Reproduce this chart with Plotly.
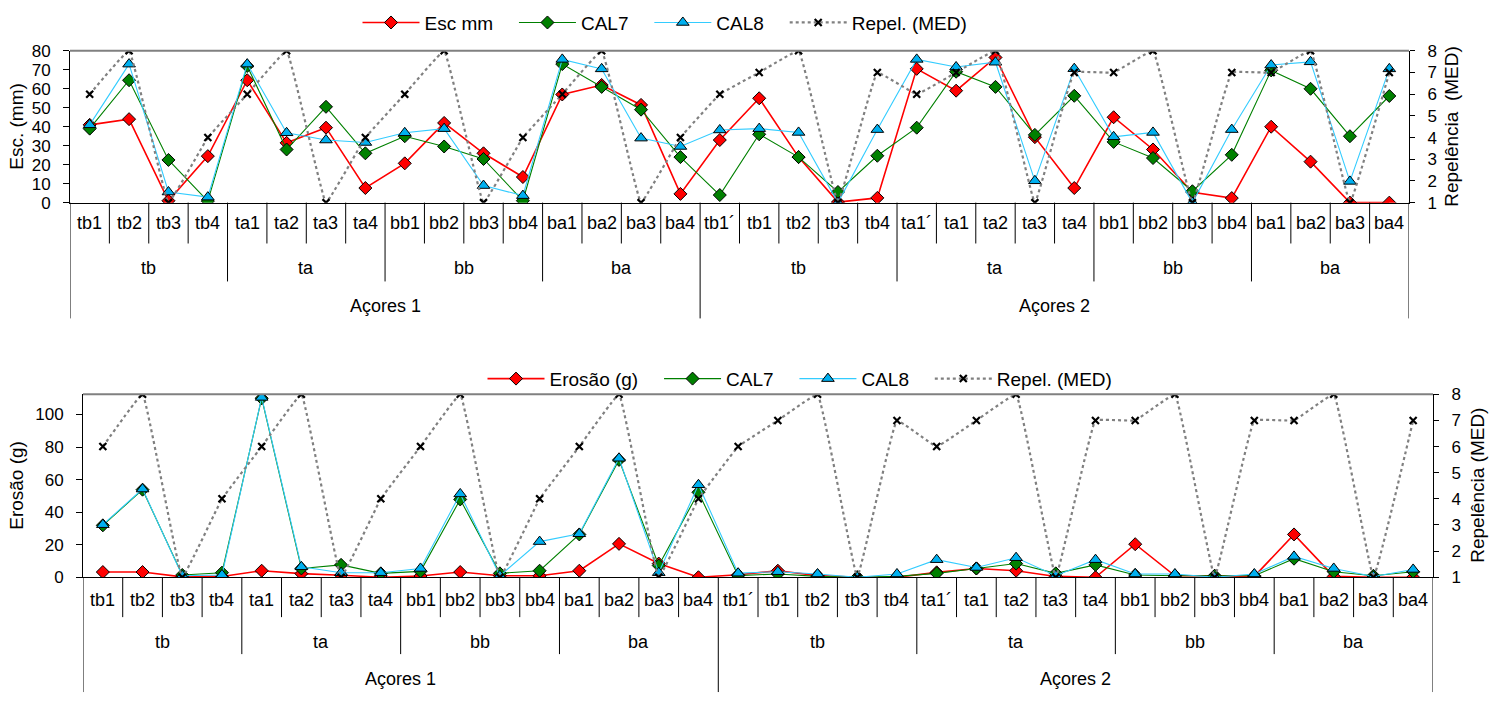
import plotly.graph_objects as go

W, H = 1498, 704

# Three-level category axis: site / plot type / sample
sites = ["Açores 1"] * 16 + ["Açores 2"] * 18
groups = (["tb"] * 4 + ["ta"] * 4 + ["bb"] * 4 + ["ba"] * 4 +
          ["tb"] * 5 + ["ta"] * 5 + ["bb"] * 4 + ["ba"] * 4)
samples = ["tb1", "tb2", "tb3", "tb4", "ta1", "ta2", "ta3", "ta4",
           "bb1", "bb2", "bb3", "bb4", "ba1", "ba2", "ba3", "ba4",
           "tb1\u00b4", "tb1", "tb2", "tb3", "tb4",
           "ta1\u00b4", "ta1", "ta2", "ta3", "ta4",
           "bb1", "bb2", "bb3", "bb4", "ba1", "ba2", "ba3", "ba4"]

# Runoff (mm)
esc_mm = [41, 44, 1, 24.5, 64.5, 31.5, 39.5, 7.7, 20.7, 42, 26, 13.5, 57, 62, 51.5, 4.6,
          33, 55, 24, 0.3, 2.5, 70.5, 59, 76.5, 34.5, 7.7, 45, 28, 5.5, 2.4, 40, 21.6, 0, 0]
cal7_esc = [39, 64.5, 22.5, 0.8, 72, 28, 50.5, 26, 35, 29.6, 23, 1, 73, 61, 49, 24,
            4, 36, 24, 5.6, 24.7, 39.5, 69, 61, 35.7, 56.3, 32, 23.5, 6, 25.2, 69.7, 60, 35, 56.2]
cal8_esc = [41, 73, 5.6, 2.9, 73, 36.8, 33, 31.7, 36.8, 39, 9, 3.7, 75.5, 70.5, 34, 29.6,
            38.3, 39, 37, 0, 38.5, 75.5, 71.5, 74, 11.5, 70.6, 34.7, 37, 0, 38.5, 72.5, 74.2, 11.2, 70.5]

# Soil loss (g)
erosao = [3.2, 3.2, 0.2, 0.5, 4, 2.2, 1.2, 0, 0.8, 3.2, 0.9, 0.9, 4, 20.5, 8.4, 0,
          1.5, 4, 1, 0, 0, 3, 5.4, 4, 0.5, 0, 20.3, 0.9, 0.9, 0.5, 26.3, 0.5, 0, 0]
cal7_ero = [31.9, 53.8, 1.4, 2.8, 110, 5.4, 7.6, 2.4, 3.6, 47.8, 2.4, 4, 26.3, 72.1, 7.2, 52.2,
            1, 2, 0.5, 0, 0.5, 2.4, 5.4, 8.4, 2.4, 7.6, 1.4, 0.9, 0.9, 0.9, 11.4, 3.4, 0.9, 3.4]
cal8_ero = [32.3, 54.2, 0.9, 1.4, 110.5, 6.4, 2.8, 2.8, 5.4, 51.2, 0.9, 21.9, 26.7, 73.1, 2.8, 56.8,
            2.5, 3.4, 2, 0, 2, 10.8, 6, 12, 0.9, 10.8, 2, 2, 0, 2, 12.8, 5.4, 0.5, 4.8]

# Water repellency class (MED)
repel = [6, 8, 1, 4, 6, 8, 1, 4, 6, 8, 1, 4, 6, 8, 1, 4,
         6, 7, 8, 1, 7, 6, 7, 8, 1, 7, 7, 8, 1, 7, 7, 8, 1, 7]

FONT = "Liberation Sans, Arial, sans-serif"
RED, GREEN, CYAN_LINE, CYAN_FILL, GREY = "#FF0000", "#008000", "#33CCFF", "#00B0F0", "#808080"
PAD = "\u00a0" * 3  # extra spacing between legend entries

x = list(range(len(samples)))


def px_x(p):
    return p / W


def px_y(p):
    return 1 - p / H


def runs(labels):
    out, start = [], 0
    for i in range(1, len(labels) + 1):
        if i == len(labels) or labels[i] != labels[start]:
            out.append((labels[start], start, i - 1))
            start = i
    return out


panels = [
    dict(xa="x", ya="y", ya2="y2", left=70, right=1409, top=43, bottom=199,
         ymax=80, dtick=10, ytitle="Esc. (mm)", rtitle="Repelência  (MED)",
         ytitle_x=17, rtitle_x=1452, legend="legend", legend_y=14, legend_x=665,
         first="Esc mm", series=(esc_mm, cal7_esc, cal8_esc),
         rows=(220, 266, 305), ends=(241, 280, 318)),
    dict(xa="x2", ya="y3", ya2="y4", left=83, right=1433, top=396, bottom=584,
         ymax=112.4, dtick=20, ytitle="Erosão (g)", rtitle="Repelência (MED)",
         ytitle_x=17, rtitle_x=1478, legend="legend2", legend_y=380, legend_x=800,
         first="Erosão (g)", series=(erosao, cal7_ero, cal8_ero),
         rows=(607, 651, 689), ends=(625, 663, 702)),
]

fig = go.Figure()
shapes, annotations = [], []
layout = {}

for p in panels:
    main, c7, c8 = p["series"]
    fig.add_trace(go.Scatter(
        x=x, y=main, name=p["first"] + PAD, mode="lines+markers", xaxis=p["xa"], yaxis=p["ya"],
        line=dict(color=RED, width=1.6),
        marker=dict(symbol="diamond", size=10, color=RED, line=dict(color="black", width=1)),
        legend=p["legend"]))
    fig.add_trace(go.Scatter(
        x=x, y=c7, name="CAL7" + PAD, mode="lines+markers", xaxis=p["xa"], yaxis=p["ya"],
        line=dict(color=GREEN, width=1.1),
        marker=dict(symbol="diamond", size=10, color=GREEN, line=dict(color="black", width=1)),
        legend=p["legend"]))
    fig.add_trace(go.Scatter(
        x=x, y=c8, name="CAL8" + PAD, mode="lines+markers", xaxis=p["xa"], yaxis=p["ya"],
        line=dict(color=CYAN_LINE, width=1.1),
        marker=dict(symbol="triangle-up", size=11, color=CYAN_FILL, line=dict(color="black", width=1)),
        legend=p["legend"]))
    fig.add_trace(go.Scatter(
        x=x, y=repel, name="Repel. (MED)", mode="lines+markers", xaxis=p["xa"], yaxis=p["ya2"],
        line=dict(color=GREY, width=2.2, dash="dot", shape="spline", smoothing=0.2),
        marker=dict(symbol="x-thin-open", size=7, color="black", line=dict(color="black", width=2.2)),
        legend=p["legend"]))

    xdom = [px_x(p["left"]), px_x(p["right"])]
    ydom = [px_y(p["bottom"]), px_y(p["top"])]
    xkey = "xaxis" if p["xa"] == "x" else "xaxis2"
    ykey = "yaxis" if p["ya"] == "y" else "yaxis3"
    y2key = "yaxis2" if p["ya2"] == "y2" else "yaxis4"

    layout[xkey] = dict(domain=xdom, range=[-0.5, len(x) - 0.5], anchor=p["ya"],
                        showticklabels=False, ticks="", showgrid=False, zeroline=False,
                        showline=True, linecolor="black", linewidth=1)
    layout[ykey] = dict(domain=ydom, range=[0, p["ymax"]], dtick=p["dtick"], tick0=0, anchor=p["xa"],
                        showgrid=False, zeroline=False, showline=True, linecolor="black", linewidth=1,
                        ticks="outside", ticklen=6, tickcolor="black", ticklabelstandoff=9,
                        tickfont=dict(family=FONT, size=17, color="black"))
    layout[y2key] = dict(domain=ydom, range=[1, 8], dtick=1, tick0=1, anchor=p["xa"],
                         overlaying=p["ya"], side="right",
                         showgrid=False, zeroline=False, showline=True, linecolor="black", linewidth=1,
                         ticks="outside", ticklen=5, tickcolor="black", ticklabelstandoff=9,
                         tickfont=dict(family=FONT, size=17, color="black"))

    # grey plot-area border along the top
    shapes.append(dict(type="line", xref=f"{p['xa']} domain", yref=f"{p['ya']} domain",
                       x0=0, x1=1, y0=1, y1=1, line=dict(color=GREY, width=2)))

    # category axis: sample / group / site labels
    ax_bottom = px_y(p["bottom"])
    levels = [samples, groups, sites]
    for lvl, labels in enumerate(levels):
        row_y = px_y(p["rows"][lvl])
        items = runs(labels) if lvl > 0 else [(l, i, i) for i, l in enumerate(labels)]
        for lab, s, e in items:
            annotations.append(dict(x=(s + e) / 2, xref=p["xa"], y=row_y, yref="paper",
                                    text=lab, showarrow=False, xanchor="center", yanchor="middle",
                                    font=dict(family=FONT, size=18, color="black")))
    # divider lines: each boundary extends down to the deepest level it separates
    n = len(samples)
    for b in range(n + 1):
        if b in (0, n) or sites[b] != sites[b - 1]:
            depth = 2
        elif groups[b] != groups[b - 1]:
            depth = 1
        else:
            depth = 0
        shapes.append(dict(type="line", xref=p["xa"], yref="paper", x0=b - 0.5, x1=b - 0.5,
                           y0=ax_bottom, y1=px_y(p["ends"][depth]),
                           line=dict(color="black", width=1)))

    # axis titles
    ymid = px_y((p["top"] + p["bottom"]) / 2)
    annotations.append(dict(x=px_x(p["ytitle_x"]), y=ymid, xref="paper", yref="paper",
                            text=p["ytitle"], textangle=-90, showarrow=False,
                            xanchor="center", yanchor="middle",
                            font=dict(family=FONT, size=19, color="black")))
    annotations.append(dict(x=px_x(p["rtitle_x"]), y=ymid, xref="paper", yref="paper",
                            text=p["rtitle"], textangle=-90, showarrow=False,
                            xanchor="center", yanchor="middle",
                            font=dict(family=FONT, size=19, color="black")))

    layout[p["legend"]] = dict(orientation="h", x=px_x(p["legend_x"]), xanchor="center",
                               y=px_y(p["legend_y"]), yanchor="middle", itemwidth=57,
                               bgcolor="rgba(0,0,0,0)", traceorder="normal",
                               font=dict(family=FONT, size=19, color="black"))

fig.update_layout(
    width=W, height=H, margin=dict(l=0, r=0, t=0, b=0),
    paper_bgcolor="white", plot_bgcolor="white",
    font=dict(family=FONT, color="black"),
    shapes=shapes, annotations=annotations, **layout,
)

fig.write_html("out.html")
